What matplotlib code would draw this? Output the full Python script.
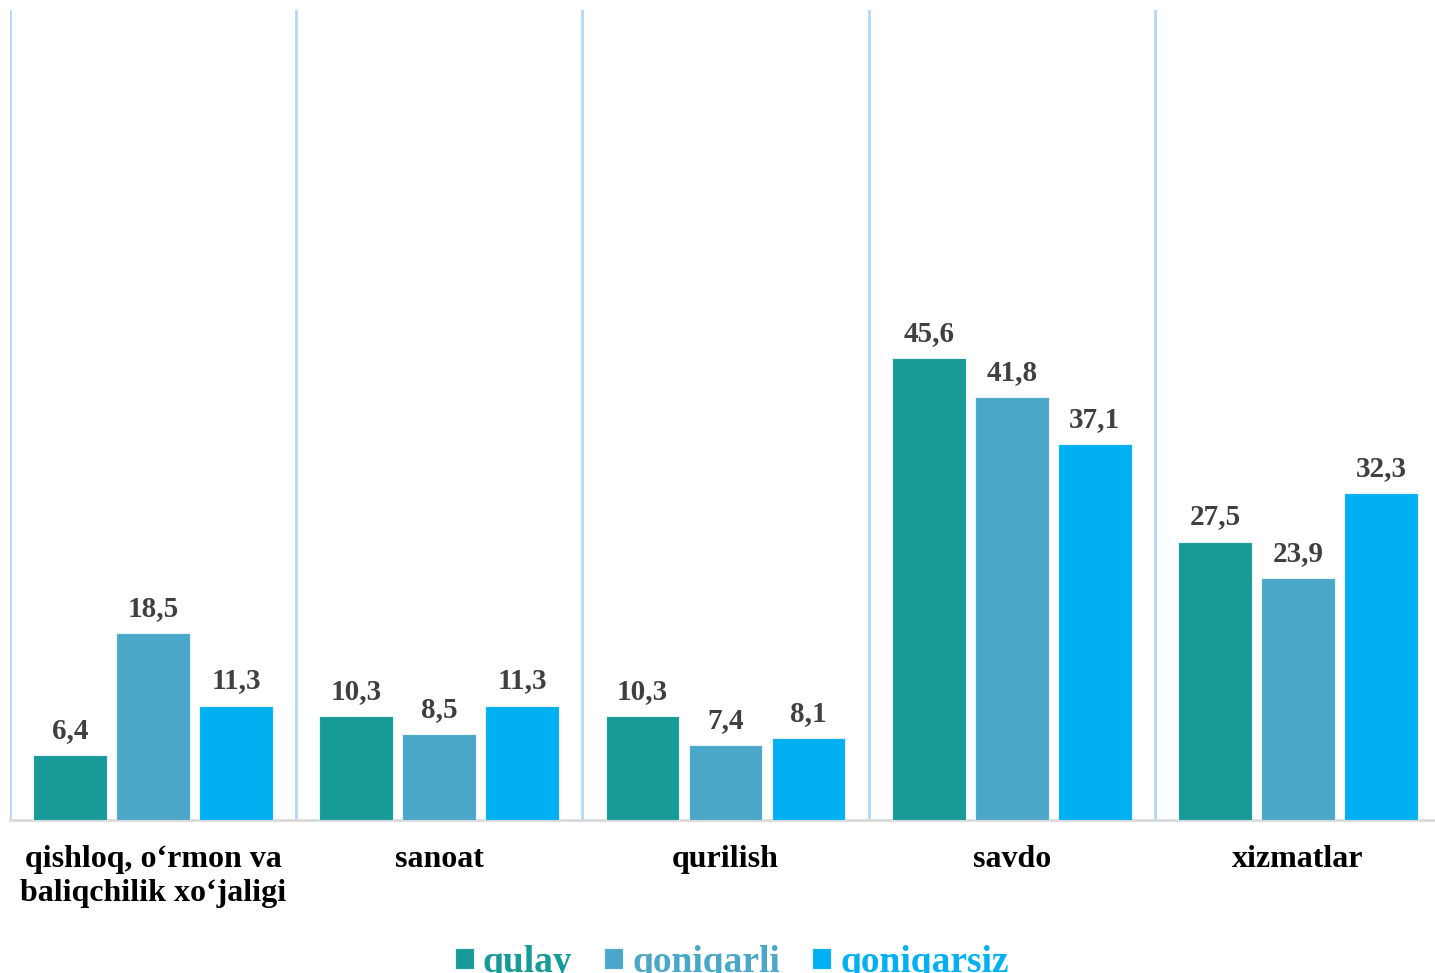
import numpy as np
import matplotlib
matplotlib.use("Agg")
import matplotlib.pyplot as plt

categories = ["qishloq, o\u2018rmon va\nbaliqchilik xo\u2018jaligi", "sanoat", "qurilish", "savdo", "xizmatlar"]
series_names = ["qulay", "qoniqarli", "qoniqarsiz"]
qulay = [6.4, 10.3, 10.3, 45.6, 27.5]
qoniqarli = [18.5, 8.5, 7.4, 41.8, 23.9]
qoniqarsiz = [11.3, 11.3, 8.1, 37.1, 32.3]
colors = ["#179a98", "#4aa7c8", "#00b0f0"]

plt.rcParams["font.family"] = ["Liberation Serif", "DejaVu Serif"]
plt.rcParams["font.weight"] = "bold"

fig = plt.figure(figsize=(14.35, 9.73), dpi=100)
ax = fig.add_axes([10 / 1435, 1 - 820 / 973, 1431 / 1435, 810 / 973])

x = np.arange(len(categories))
width = 0.258
step = 0.29
for i, (vals, name) in enumerate(zip([qulay, qoniqarli, qoniqarsiz], series_names)):
    bars = ax.bar(x + (i - 1) * step, vals, width, color=colors[i], label=name,
                  edgecolor="#e6f3fb", linewidth=0.8, zorder=3)
    labels = [f"{v:.1f}".replace(".", ",") for v in vals]
    ax.bar_label(bars, labels=labels, padding=8, fontsize=21, fontweight="bold",
                 color="#404040")

# separators between groups
for s in np.arange(-0.5, len(categories), 1.0):
    ax.axvline(s, color="#b5d6fb", linewidth=2, zorder=1)

ax.set_xlim(-0.5, 4.5)
ax.set_ylim(0, 80)
ax.set_yticks([])
ax.set_xticks(x)
ax.set_xticklabels(categories, fontsize=23, fontweight="bold", color="black", linespacing=1.25)
ax.tick_params(axis="x", length=0, pad=18)
for side in ["top", "right", "left"]:
    ax.spines[side].set_visible(False)
ax.spines["bottom"].set_color("#d9d9d9")
ax.spines["bottom"].set_linewidth(2)

leg = fig.legend(loc="lower center", bbox_to_anchor=(0.51, -0.042), ncol=3, frameon=False,
                 handlelength=0.5, handleheight=0.5, handletextpad=0.25,
                 columnspacing=0.85, prop={"size": 27, "weight": "bold"})
for txt, c in zip(leg.get_texts(), colors):
    txt.set_color(c)

fig.savefig("out.png", dpi=100)
